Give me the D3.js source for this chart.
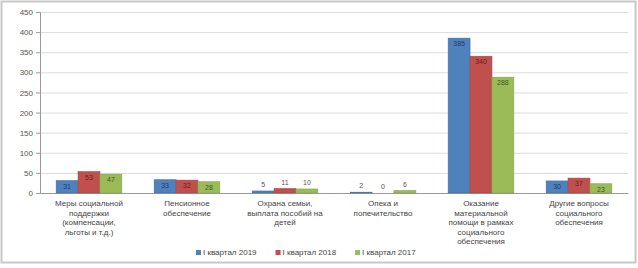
<!DOCTYPE html>
<html>
<head>
<meta charset="utf-8">
<script src="https://cdn.jsdelivr.net/npm/d3@7"></script>
<style>
  body { margin: 0; background: #fff; }
  text { font-family: "Liberation Sans", Arial, sans-serif; }
</style>
</head>
<body>
<div id="chart"></div>
<script>
const categories = [
    ["Меры социальной", "поддержки", "(компенсации,", "льготы и т.д.)"],
    ["Пенсионное", "обеспечение"],
    ["Охрана семьи,", "выплата пособий на", "детей"],
    ["Опека и", "попечительство"],
    ["Оказание", "материальной", "помощи в рамках", "социального", "обеспечения"],
    ["Другие вопросы", "социального", "обеспечения"]
];
const seriesNames = ["I квартал 2019", "I квартал 2018", "I квартал 2017"];
const values2019 = [31, 33, 5, 2, 385, 30];
const values2018 = [53, 32, 11, 0, 340, 37];
const values2017 = [47, 28, 10, 6, 288, 23];
const yTicks = [0, 50, 100, 150, 200, 250, 300, 350, 400, 450];

const colors = ["#4F81BD", "#C0504D", "#9BBB59"];
const labelColors = ["#1F3A66", "#6B1D1B", "#3E5A1A"];
const series = [values2019, values2018, values2017];

const W = 638, H = 268;
const margin = { top: 12, right: 10, bottom: 75, left: 40 };
const width = 628 - margin.left;
const height = 193 - margin.top;

const svg = d3.select("#chart").append("svg")
    .attr("width", W)
    .attr("height", H);

// outer frame
svg.append("rect")
    .attr("x", 1.5).attr("y", 1.5)
    .attr("width", 634).attr("height", 261)
    .attr("fill", "none").attr("stroke", "#c8c8c8").attr("stroke-width", 2);

const g = svg.append("g")
    .attr("transform", "translate(" + margin.left + "," + margin.top + ")");

const x0 = d3.scaleBand().domain(d3.range(categories.length)).range([0, width]).paddingInner(0.33).paddingOuter(0.165);
const x1 = d3.scaleBand().domain(d3.range(series.length)).range([0, x0.bandwidth()]);
const y = d3.scaleLinear().domain([0, 450]).range([height, 0]);

// grid
g.selectAll(".grid").data(yTicks).join("line")
    .attr("x1", 0).attr("x2", width)
    .attr("y1", d => y(d) + 0.5).attr("y2", d => y(d) + 0.5)
    .attr("stroke", "#dcdcdc");

const yAxis = g.append("g").call(d3.axisLeft(y).tickValues(yTicks).tickSize(4).tickPadding(3));
yAxis.select(".domain").attr("stroke", "#999");
yAxis.selectAll(".tick line").attr("stroke", "#999");
yAxis.selectAll("text").attr("fill", "#555").attr("font-size", 8);

const xAxis = g.append("g").attr("transform", "translate(0," + height + ")")
    .call(d3.axisBottom(x0).tickSize(0).tickFormat(""));
xAxis.select(".domain").attr("stroke", "#999");

// category labels
categories.forEach((lines, i) => {
    const t = g.append("text")
        .attr("x", x0(i) + x0.bandwidth() / 2)
        .attr("y", height + 13)
        .attr("text-anchor", "middle")
        .attr("font-size", 8)
        .attr("fill", "#444");
    lines.forEach((l, k) => {
        t.append("tspan").attr("x", x0(i) + x0.bandwidth() / 2).attr("dy", k === 0 ? 0 : 9.6).text(l);
    });
});

// bars
const inside = d => (height - y(d) > 8);
series.forEach((vals, s) => {
    const gs = g.append("g");
    gs.selectAll("rect").data(vals).join("rect")
        .attr("x", (d, i) => x0(i) + x1(s))
        .attr("y", d => y(d))
        .attr("width", x1.bandwidth())
        .attr("height", d => height - y(d))
        .attr("fill", colors[s])
        .attr("stroke", d3.color(colors[s]).darker(0.4))
        .attr("stroke-width", 0.6);
    gs.selectAll("text").data(vals).join("text")
        .attr("x", (d, i) => x0(i) + x1(s) + x1.bandwidth() / 2)
        .attr("y", d => inside(d) ? y(d) + 8 : y(d) - 4)
        .attr("text-anchor", "middle")
        .attr("font-size", 7)
        .attr("fill", d => inside(d) ? labelColors[s] : "#555")
        .text(d => d);
});

// legend
const legend = svg.append("g").attr("transform", "translate(196,255)");
let lx = 0;
seriesNames.forEach((name, s) => {
    legend.append("rect").attr("x", lx).attr("y", -5).attr("width", 5).attr("height", 5).attr("fill", colors[s]);
    const t = legend.append("text").attr("x", lx + 7).attr("y", 0).attr("font-size", 8).attr("fill", "#444").text(name);
    lx += t.node().getComputedTextLength() + 26;
});
</script>
</body>
</html>
